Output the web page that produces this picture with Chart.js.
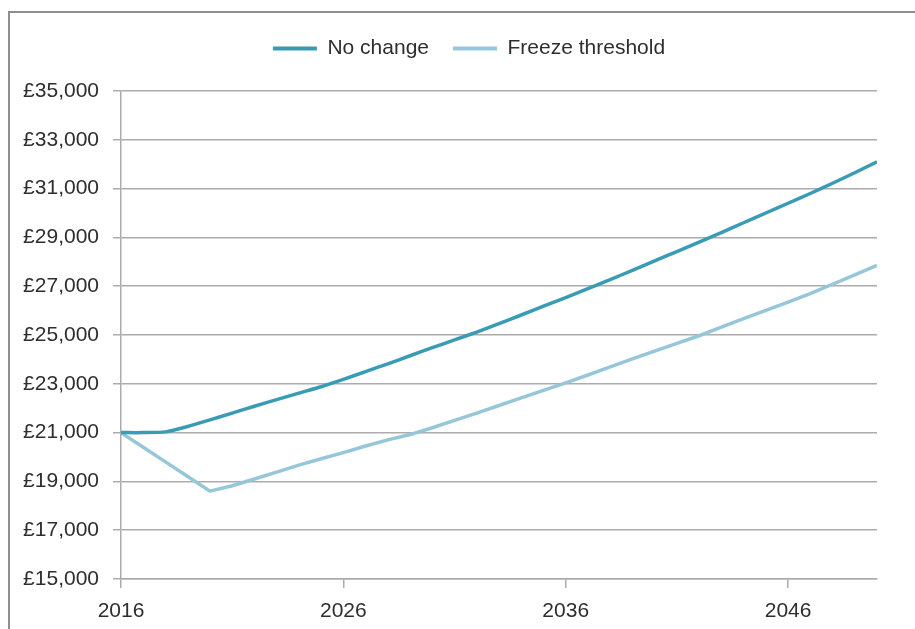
<!DOCTYPE html>
<html>
<head>
<meta charset="utf-8">
<script src="https://cdn.jsdelivr.net/npm/chart.js@4"></script>
<style>
  html, body { margin: 0; padding: 0; background: #ffffff; overflow: hidden; width: 915px; height: 629px; }
  #frame { position: absolute; left: 8px; top: 11px; width: 2000px; height: 2000px;
           border-left: 2px solid #8e8e8e; border-top: 2px solid #8e8e8e; box-sizing: border-box; }
  #wrap { position: absolute; left: 0; top: 0; width: 938px; height: 629px; }
</style>
</head>
<body>
<div id="frame"></div>
<div id="wrap"><canvas id="c" width="938" height="629"></canvas></div>
<script>
// ---- data ----
const years = [2016,2017,2018,2019,2020,2021,2022,2023,2024,2025,2026,2027,2028,2029,2030,2031,2032,2033,
               2034,2035,2036,2037,2038,2039,2040,2041,2042,2043,2044,2045,2046,2047,2048,2049,2050];
const noChange = [21000,21000,21030,21250,21520,21800,22080,22350,22620,22880,23180,23500,23820,24150,24480,
                  24800,25120,25470,25820,26180,26530,26900,27270,27650,28040,28420,28810,29200,29600,30000,
                  30400,30800,31220,31650,32100];
const freezeThreshold = [21000,20400,19800,19200,18600,18820,19100,19380,19670,19930,20180,20450,20700,20920,
                         21200,21500,21800,22110,22420,22730,23040,23360,23690,24020,24340,24660,24970,25320,
                         25670,26010,26350,26700,27080,27460,27850];
const seriesNames = ["No change", "Freeze threshold"];
const xTickYears = [2016, 2026, 2036, 2046];
const yTickValues = [15000,17000,19000,21000,23000,25000,27000,29000,31000,33000,35000];

const toPoints = arr => years.map((yr, i) => ({x: yr, y: arr[i]}));
const gridColor = '#acacac';
const fontFamily = '"Liberation Sans", Arial, sans-serif';

const legendSpacer = {
  id: 'legendSpacer',
  beforeInit(chart) {
    const origFit = chart.legend.fit;
    chart.legend.fit = function () {
      origFit.bind(chart.legend)();
      this.height += 22;
    };
  }
};

new Chart(document.getElementById('c'), {
  type: 'line',
  data: {
    datasets: [
      { label: seriesNames[0], data: toPoints(noChange), borderColor: '#3a9bb4', backgroundColor: '#3a9bb4',
        borderWidth: 3.5, pointRadius: 0, tension: 0.2, yAxisID: 'y' },
      { label: seriesNames[1], data: toPoints(freezeThreshold), borderColor: '#96c7d9', backgroundColor: '#96c7d9',
        borderWidth: 3.5, pointRadius: 0, tension: 0, yAxisID: 'y' }
    ]
  },
  options: {
    responsive: false,
    animation: false,
    layout: { padding: { top: 14, left: 0, right: 0, bottom: 0 } },
    plugins: {
      legend: {
        position: 'top',
        labels: {
          boxWidth: 44, boxHeight: 4, padding: 24, color: '#2e2e2e',
          font: { family: fontFamily, size: 21 },
          generateLabels(chart) {
            const items = Chart.defaults.plugins.legend.labels.generateLabels(chart);
            items.forEach(it => { it.lineWidth = 0; });
            return items;
          }
        }
      },
      tooltip: { enabled: false }
    },
    scales: {
      x: {
        type: 'linear', min: 2016, max: 2050,
        afterBuildTicks(s) { s.ticks = xTickYears.map(v => ({value: v})); },
        afterFit(s) { s.height = 50; },
        grid: { display: true, drawOnChartArea: false, drawTicks: true, tickLength: 9, color: gridColor, lineWidth: 1.5 },
        border: { display: true, color: gridColor, width: 1.5 },
        ticks: { padding: 11, color: '#2e2e2e', font: { family: fontFamily, size: 21 },
                 callback: v => String(v), maxRotation: 0 }
      },
      y: {
        min: 15000, max: 35000,
        afterBuildTicks(s) { s.ticks = yTickValues.map(v => ({value: v})); },
        afterFit(s) { s.width = 121; },
        grid: { color: gridColor, lineWidth: 1.5, tickLength: 8 },
        border: { display: true, color: gridColor, width: 1.5 },
        ticks: { padding: 14, color: '#2e2e2e', font: { family: fontFamily, size: 21 },
                 callback: v => '£' + v.toLocaleString('en-GB') }
      },
      y2: {
        position: 'right', display: true, min: 0, max: 1,
        afterFit(s) { s.width = 61; },
        grid: { display: false }, border: { display: false }, ticks: { display: false }
      }
    }
  },
  plugins: [legendSpacer]
});
</script>
</body>
</html>
